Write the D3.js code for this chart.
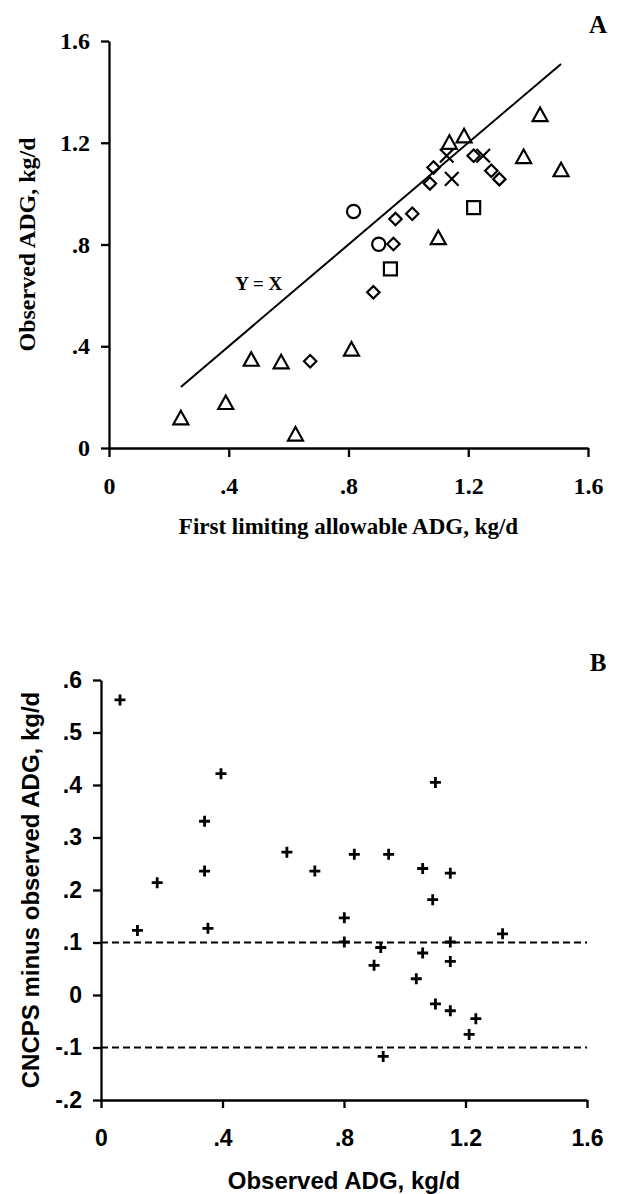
<!DOCTYPE html>
<html>
<head>
<meta charset="utf-8">
<script src="https://cdn.jsdelivr.net/npm/d3@7"></script>
<style>
  body { margin: 0; background: #fff; }
  svg { display: block; }
</style>
</head>
<body>
<svg id="chart" width="620" height="1194"></svg>
<script>
// ---- Panel A: observed vs first limiting allowable ADG (kg/d) ----
const ticksA = [0, 0.4, 0.8, 1.2, 1.6];
const triangles = [
  [0.24, 0.12], [0.39, 0.18], [0.475, 0.35], [0.575, 0.34], [0.623, 0.056],
  [0.81, 0.39], [1.10, 0.828], [1.137, 1.203], [1.186, 1.228], [1.385, 1.147],
  [1.44, 1.312], [1.51, 1.095]
];
const diamonds = [
  [0.672, 0.341], [0.883, 0.612], [0.95, 0.802], [0.957, 0.9], [1.013, 0.921],
  [1.072, 1.04], [1.084, 1.103], [1.218, 1.149], [1.277, 1.09], [1.304, 1.057]
];
const circles = [[0.817, 0.93], [0.901, 0.801]];
const squares = [[0.94, 0.704], [1.218, 0.945]];
const crosses = [[1.128, 1.149], [1.145, 1.058], [1.25, 1.149]];
const identityLine = [[0.24, 0.24], [1.51, 1.51]];

// ---- Panel B: CNCPS minus observed ADG vs observed ADG (kg/d) ----
const ticksBx = [0, 0.4, 0.8, 1.2, 1.6];
const ticksBy = [-0.2, -0.1, 0, 0.1, 0.2, 0.3, 0.4, 0.5, 0.6];
const residuals = [
  [0.0625, 0.562], [0.12, 0.123], [0.185, 0.214], [0.341, 0.331], [0.341, 0.236],
  [0.352, 0.127], [0.395, 0.4215], [0.612, 0.272], [0.704, 0.236], [0.801, 0.147],
  [0.801, 0.101], [0.834, 0.268], [0.899, 0.0565], [0.921, 0.0905], [0.929, -0.117],
  [0.947, 0.268], [1.038, 0.031], [1.059, 0.241], [1.059, 0.080], [1.092, 0.1816],
  [1.101, 0.405], [1.101, -0.017], [1.150, 0.232], [1.150, 0.101], [1.150, 0.064],
  [1.150, -0.030], [1.212, -0.075], [1.234, -0.045], [1.322, 0.1165]
];
const limits = [0.1, -0.1];

const svg = d3.select("#chart");
const fmt = v => (v === 0 ? "0" : String(+v.toFixed(2)).replace(/^(-?)0\./, "$1."));
const SERIF = "'Liberation Serif', 'Times New Roman', serif";
const SANS = "'Liberation Sans', Arial, sans-serif";

function styleAxis(g, font, size) {
  g.select(".domain").attr("stroke", "#000").attr("stroke-width", 2.3);
  g.selectAll(".tick line").attr("stroke", "#000").attr("stroke-width", 2.3);
  g.selectAll(".tick text")
    .attr("fill", "#000")
    .style("font-family", font)
    .style("font-weight", "bold")
    .style("font-size", size + "px");
}

// ================= Panel A =================
const xA = d3.scaleLinear().domain([0, 1.6]).range([109, 588]);
const yA = d3.scaleLinear().domain([0, 1.6]).range([448, 41]);
const gA = svg.append("g");

gA.append("g")
  .attr("transform", `translate(0,${yA(0)})`)
  .call(d3.axisBottom(xA).tickValues(ticksA).tickFormat(fmt).tickSize(9).tickSizeOuter(0).tickPadding(20))
  .call(g => styleAxis(g, SERIF, 24));

gA.append("g")
  .attr("transform", `translate(${xA(0)},0)`)
  .call(d3.axisLeft(yA).tickValues(ticksA).tickFormat(fmt).tickSize(8).tickSizeOuter(0).tickPadding(11))
  .call(g => styleAxis(g, SERIF, 24));

// Y = X reference line
gA.append("path")
  .datum(identityLine)
  .attr("d", d3.line().x(d => xA(d[0])).y(d => yA(d[1])))
  .attr("fill", "none").attr("stroke", "#000").attr("stroke-width", 2);

gA.append("text")
  .attr("x", xA(0.5)).attr("y", yA(0.65) + 7)
  .attr("text-anchor", "middle")
  .style("font-family", SERIF).style("font-weight", "bold").style("font-size", "19px")
  .text("Y = X");

const markA = gA.append("g").attr("fill", "none").attr("stroke", "#000").attr("stroke-width", 2.2);

// open triangles (bounding box centred on the point)
markA.selectAll(".tri").data(triangles).join("path")
  .attr("d", d => {
    const cx = xA(d[0]), cy = yA(d[1]), w = 7.5, h = 6.8;
    return `M${cx},${cy - h}L${cx + w},${cy + h}L${cx - w},${cy + h}Z`;
  });

markA.selectAll(".dia").data(diamonds).join("path")
  .attr("d", d => {
    const cx = xA(d[0]), cy = yA(d[1]), r = 6.2;
    return `M${cx},${cy - r}L${cx + r},${cy}L${cx},${cy + r}L${cx - r},${cy}Z`;
  });

markA.selectAll("circle").data(circles).join("circle")
  .attr("cx", d => xA(d[0])).attr("cy", d => yA(d[1])).attr("r", 6.6);

markA.selectAll("rect").data(squares).join("rect")
  .attr("x", d => xA(d[0]) - 6.5).attr("y", d => yA(d[1]) - 6.5)
  .attr("width", 13).attr("height", 13);

markA.selectAll(".x").data(crosses).join("path")
  .attr("d", d => {
    const cx = xA(d[0]), cy = yA(d[1]), r = 6.8;
    return `M${cx - r},${cy - r}L${cx + r},${cy + r}M${cx + r},${cy - r}L${cx - r},${cy + r}`;
  });

gA.append("text")
  .attr("x", 598).attr("y", 33).attr("text-anchor", "middle")
  .style("font-family", SERIF).style("font-weight", "bold").style("font-size", "25px")
  .text("A");

gA.append("text")
  .attr("x", (xA(0) + xA(1.6)) / 2).attr("y", 534).attr("text-anchor", "middle")
  .style("font-family", SERIF).style("font-weight", "bold").style("font-size", "23px")
  .text("First limiting allowable ADG, kg/d");

gA.append("text")
  .attr("transform", `translate(35,${(yA(0) + yA(1.6)) / 2}) rotate(-90)`)
  .attr("text-anchor", "middle")
  .style("font-family", SERIF).style("font-weight", "bold").style("font-size", "24px")
  .text("Observed ADG, kg/d");

// ================= Panel B =================
const xB = d3.scaleLinear().domain([0, 1.6]).range([101, 587]);
const yB = d3.scaleLinear().domain([-0.2, 0.6]).range([1100, 680]);
const gB = svg.append("g");

gB.append("g")
  .attr("transform", `translate(0,${yB(-0.2)})`)
  .call(d3.axisBottom(xB).tickValues(ticksBx).tickFormat(fmt).tickSize(8).tickSizeOuter(0).tickPadding(22))
  .call(g => styleAxis(g, SANS, 23));

gB.append("g")
  .attr("transform", `translate(${xB(0)},0)`)
  .call(d3.axisLeft(yB).tickValues(ticksBy).tickFormat(fmt).tickSize(8).tickSizeOuter(0).tickPadding(11))
  .call(g => styleAxis(g, SANS, 23));

gB.selectAll(".limit").data(limits).join("line")
  .attr("x1", xB(0)).attr("x2", xB(1.6))
  .attr("y1", d => yB(d)).attr("y2", d => yB(d))
  .attr("stroke", "#000").attr("stroke-width", 2).attr("stroke-dasharray", "7,4");

gB.append("g").attr("stroke", "#000").attr("stroke-width", 2.8).attr("fill", "none")
  .selectAll("path").data(residuals).join("path")
  .attr("d", d => {
    const cx = xB(d[0]), cy = yB(d[1]), r = 5.5;
    return `M${cx - r},${cy}H${cx + r}M${cx},${cy - r}V${cy + r}`;
  });

gB.append("text")
  .attr("x", 598).attr("y", 671).attr("text-anchor", "middle")
  .style("font-family", SERIF).style("font-weight", "bold").style("font-size", "25px")
  .text("B");

gB.append("text")
  .attr("x", (xB(0) + xB(1.6)) / 2).attr("y", 1189).attr("text-anchor", "middle")
  .style("font-family", SANS).style("font-weight", "bold").style("font-size", "24px")
  .text("Observed ADG, kg/d");

gB.append("text")
  .attr("transform", `translate(39,${(yB(-0.2) + yB(0.6)) / 2}) rotate(-90)`)
  .attr("text-anchor", "middle")
  .style("font-family", SANS).style("font-weight", "bold").style("font-size", "24px")
  .text("CNCPS minus observed ADG, kg/d");
</script>
</body>
</html>
